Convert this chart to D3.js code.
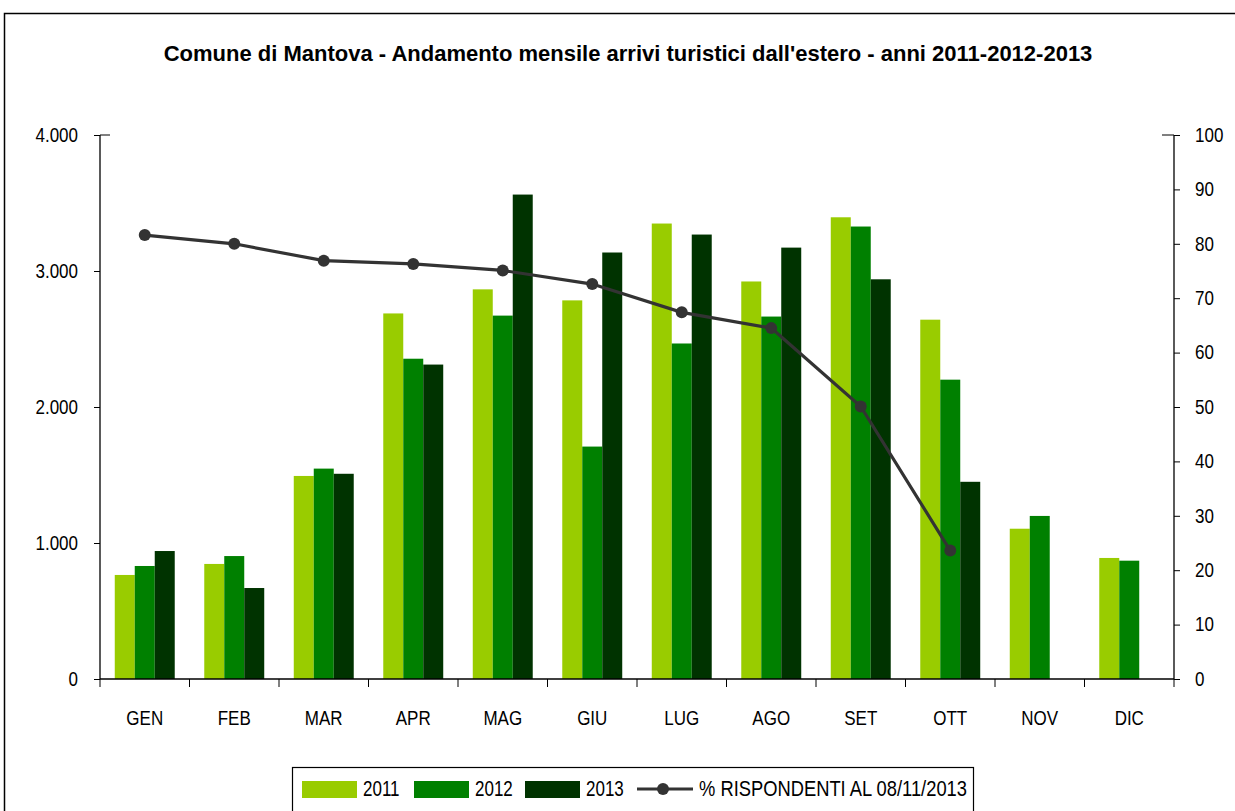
<!DOCTYPE html>
<html><head><meta charset="utf-8">
<script src="https://cdn.jsdelivr.net/npm/d3@7"></script>
<style>body{margin:0;background:#fff}svg{display:block}</style>
</head><body>
<script>
const months = ["GEN","FEB","MAR","APR","MAG","GIU","LUG","AGO","SET","OTT","NOV","DIC"];
const series = ["2011","2012","2013"];
const v2011 = [765,846,1493,2688,2865,2784,3349,2923,3395,2642,1105,890];
const v2012 = [831,904,1547,2355,2672,1709,2467,2665,3327,2201,1199,870];
const v2013 = [941,669,1509,2312,3562,3136,3268,3172,2939,1450,null,null];
const pct = [81.6,80.0,76.9,76.3,75.1,72.6,67.4,64.5,50.1,23.6,null,null];
const leftTicks = [0,1000,2000,3000,4000];
const rightTicks = [0,10,20,30,40,50,60,70,80,90,100];
const colors = ["#99CC00","#008000","#003300"];
const lineLabel = "% RISPONDENTI AL 08/11/2013";
const title = "Comune di Mantova - Andamento mensile arrivi turistici dall'estero - anni 2011-2012-2013";

const W=1235,H=811;
const svg=d3.select("body").append("svg").attr("width",W).attr("height",H);
const font="'Liberation Sans', Arial, sans-serif";

svg.append("rect").attr("x",4.5).attr("y",13.5).attr("width",1240).attr("height",820)
  .attr("fill","#fff").attr("stroke","#000").attr("stroke-width",1.5);

const L=100,R=1174,T=135,B=679;
const x=d3.scaleBand().domain(months).range([L,R]).paddingInner(0.33).paddingOuter(0.165);
const xs=d3.scaleBand().domain(series).range([0,x.bandwidth()]);
const y=d3.scaleLinear().domain([0,4000]).range([B,T]);
const y2=d3.scaleLinear().domain([0,100]).range([B,T]);

function stext(g,tx,ty,str,size,sy,anchor){
  return g.append("text").attr("transform",`translate(${tx},${ty}) scale(1,${sy})`)
    .attr("text-anchor",anchor||"start").attr("font-family",font).attr("font-size",size)
    .attr("fill","#000").text(str);
}

svg.append("text").attr("x",628).attr("y",61).attr("text-anchor","middle")
  .attr("font-family",font).attr("font-weight","bold").attr("font-size",22).text(title);

const data=[v2011,v2012,v2013];
series.forEach((s,si)=>{
  svg.append("g").selectAll("rect").data(months.map((m,i)=>({m,v:data[si][i]})).filter(d=>d.v!=null))
    .join("rect").attr("x",d=>x(d.m)+xs(s)).attr("width",xs.bandwidth())
    .attr("y",d=>y(d.v)).attr("height",d=>B-y(d.v)).attr("fill",colors[si]);
});

const fmt=d=>d3.format(",")(d).replace(/,/g,".");
const SY=1.22;
const gl=svg.append("g").attr("transform",`translate(${L},0)`)
  .call(d3.axisLeft(y).tickValues(leftTicks).tickFormat(fmt).tickSize(6).tickPadding(16));
const gr=svg.append("g").attr("transform",`translate(${R},0)`)
  .call(d3.axisRight(y2).tickValues(rightTicks).tickSize(6).tickPadding(15));
const gb=svg.append("g").attr("transform",`translate(0,${B})`)
  .call(d3.axisBottom(x).tickSize(0).tickFormat(""));
gb.append("g").selectAll("line").data(d3.range(months.length+1)).join("line")
  .attr("x1",i=>L+i*(R-L)/months.length).attr("x2",i=>L+i*(R-L)/months.length)
  .attr("y1",0).attr("y2",8).attr("stroke","#000");
[gl,gr,gb].forEach(g=>{
  g.selectAll(".domain").attr("stroke","#000").attr("stroke-width",1.3);
  g.selectAll("line").attr("stroke","#000");
});
[gl,gr].forEach(g=>{
  g.selectAll(".tick text").attr("font-family",font).attr("font-size",17).attr("fill","#000")
    .attr("dy",null).attr("y",0).attr("transform",`translate(0,6.2) scale(1,${SY})`);
});
gl.select(".domain").attr("d",`M0,${B}V${T}`);
gr.select(".domain").attr("d",`M0,${B}V${T}`);
gb.select(".domain").attr("d",`M${L},0H${R}`);
svg.append("line").attr("x1",L).attr("x2",L+10).attr("y1",T).attr("y2",T).attr("stroke","#000");
svg.append("line").attr("x1",R-12).attr("x2",R).attr("y1",T).attr("y2",T).attr("stroke","#000");
months.forEach(m=>stext(svg,x(m)+x.bandwidth()/2,725,m,17,SY,"middle"));

const pts=months.map((m,i)=>({m,v:pct[i]})).filter(d=>d.v!=null);
const line=d3.line().x(d=>x(d.m)+x.bandwidth()/2).y(d=>y2(d.v));
svg.append("path").datum(pts).attr("d",line).attr("fill","none").attr("stroke","#333").attr("stroke-width",3.2);
svg.append("g").selectAll("circle").data(pts).join("circle")
  .attr("cx",d=>x(d.m)+x.bandwidth()/2).attr("cy",d=>y2(d.v)).attr("r",6).attr("fill","#333");

const lg=svg.append("g");
lg.append("rect").attr("x",292.5).attr("y",767.5).attr("width",681).attr("height",60).attr("fill","#fff").attr("stroke","#000").attr("stroke-width",1.2);
const lx=[302,414,525];
series.forEach((s,i)=>{
  lg.append("rect").attr("x",lx[i]).attr("y",781).attr("width",55).attr("height",17).attr("fill",colors[i]);
  stext(lg,lx[i]+61,796,s,17,1.3);
});
lg.append("line").attr("x1",637).attr("x2",693).attr("y1",789).attr("y2",789).attr("stroke","#333").attr("stroke-width",3.2);
lg.append("circle").attr("cx",663).attr("cy",789).attr("r",6).attr("fill","#333");
stext(lg,699,796,lineLabel,17,1.3).attr("textLength",268).attr("lengthAdjust","spacingAndGlyphs");
</script>
</body></html>
